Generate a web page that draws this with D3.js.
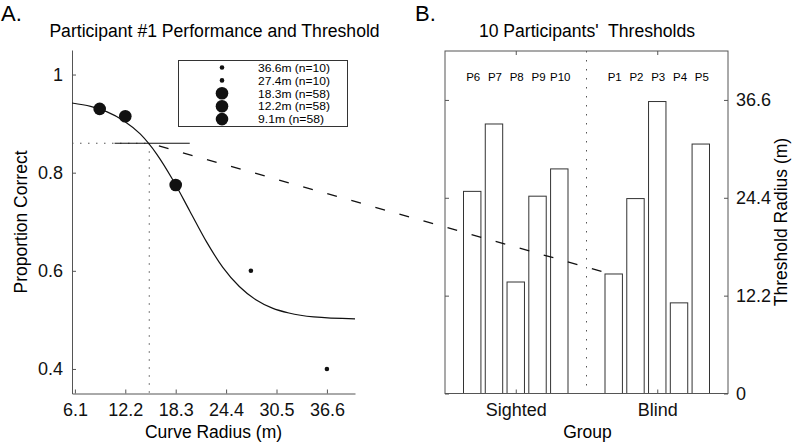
<!DOCTYPE html>
<html>
<head>
<meta charset="utf-8">
<script src="https://cdn.jsdelivr.net/npm/d3@7/dist/d3.min.js"></script>
<style>
  html, body { margin: 0; padding: 0; background: #fff; }
  svg { display: block; font-family: "Liberation Sans", Arial, Helvetica, sans-serif; }
</style>
</head>
<body>
<svg id="chart" width="800" height="444"></svg>
<script>
// ---------- Data ----------
// Panel A: observed performance per curve radius
const radii = [9.1, 12.2, 18.3, 27.4, 36.6];
const propCorrect = [0.93, 0.915, 0.775, 0.60, 0.40];
const trialCounts = [58, 58, 58, 10, 10];

// Panel A: fitted psychometric curve
const curveRadius = [5.75, 8, 10, 12, 14, 16, 18, 20, 22, 24, 26, 28, 30, 32, 35, 40];
const curveProp   = [0.942, 0.935, 0.924, 0.906, 0.879, 0.838, 0.784, 0.722, 0.660, 0.607, 0.568, 0.541, 0.524, 0.514, 0.506, 0.502];

// Threshold and its interval
const thresholdRadius = 15.1;
const thresholdProp = 0.86;
const thresholdInterval = [10.9, 20.0];

// Legend order
const legendRadii = [36.6, 27.4, 18.3, 12.2, 9.1];
const legendN = [10, 10, 58, 58, 58];

// Axis ticks
const xTicksA = [6.1, 12.2, 18.3, 24.4, 30.5, 36.6];
const yTicksA = [0.4, 0.6, 0.8, 1];
const yTicksB = [0, 12.2, 24.4, 36.6];

// Panel B: thresholds per participant
const groups = ["Sighted", "Blind"];
const sightedIds = ["P6", "P7", "P8", "P9", "P10"];
const sightedThresholds = [25.2, 33.6, 13.9, 24.6, 28.0];
const blindIds = ["P1", "P2", "P3", "P4", "P5"];
const blindThresholds = [14.9, 24.3, 36.4, 11.3, 31.1];

// ---------- Drawing ----------
const svg = d3.select("#chart");
const axisColor = "#555";
const tickLen = 4;
const fontTick = 18;
const fontLabel = 17.5;

// Panel A scales
const xA = d3.scaleLinear().domain([5.75, 40]).range([72, 355]);
const yA = d3.scaleLinear().domain([0.35, 1.05]).range([393.5, 50]);

// Panel labels & titles
svg.append("text").attr("x", 1).attr("y", 21).attr("font-size", 22).text("A.");
svg.append("text").attr("x", 415).attr("y", 21).attr("font-size", 22).text("B.");
svg.append("text").attr("x", 214.5).attr("y", 37).attr("text-anchor", "middle")
  .attr("font-size", 17.6).text("Participant #1 Performance and Threshold");
svg.append("text").attr("x", 587).attr("y", 37).attr("text-anchor", "middle")
  .style("white-space", "pre")
  .attr("font-size", 17.6).text("10 Participants'  Thresholds");

// Panel A axes (left + bottom, ticks inside)
const gA = svg.append("g");
const xAxisA = d3.axisBottom(xA).tickValues(xTicksA).tickFormat(d3.format(".1f"))
  .tickSizeInner(-tickLen).tickSizeOuter(0).tickPadding(10);
gA.append("g").attr("transform", "translate(0,393.5)").call(xAxisA);
const yAxisA = d3.axisLeft(yA).tickValues(yTicksA).tickFormat(d => d === 1 ? "1" : d3.format(".1f")(d))
  .tickSizeInner(-tickLen).tickSizeOuter(0).tickPadding(9);
gA.append("g").attr("transform", "translate(72,0)").call(yAxisA);
gA.selectAll(".domain").attr("stroke", axisColor);
gA.selectAll(".tick line").attr("stroke", axisColor);
gA.selectAll(".tick text").attr("font-size", fontTick).attr("fill", "#111")
  .style("font-family", "Liberation Sans, Arial, sans-serif");

svg.append("text").attr("x", 213.5).attr("y", 438).attr("text-anchor", "middle")
  .attr("font-size", fontLabel).text("Curve Radius (m)");
svg.append("text").attr("transform", "translate(27,222) rotate(-90)").attr("text-anchor", "middle")
  .attr("font-size", fontLabel).text("Proportion Correct");

// Threshold guides
svg.append("line")
  .attr("x1", xA(5.75)).attr("x2", xA(thresholdRadius))
  .attr("y1", yA(thresholdProp)).attr("y2", yA(thresholdProp))
  .attr("stroke", "#555").attr("stroke-dasharray", "1.5,6.5");
svg.append("line")
  .attr("x1", xA(thresholdRadius)).attr("x2", xA(thresholdRadius))
  .attr("y1", yA(thresholdProp)).attr("y2", yA(0.35))
  .attr("stroke", "#555").attr("stroke-dasharray", "1.5,6.5");
svg.append("line")
  .attr("x1", xA(thresholdInterval[0])).attr("x2", xA(thresholdInterval[1]))
  .attr("y1", yA(thresholdProp)).attr("y2", yA(thresholdProp))
  .attr("stroke", "#111").attr("stroke-width", 1.2);

// Fitted curve
const curvePts = curveRadius.map((r, i) => [r, curveProp[i]]);
svg.append("path")
  .attr("d", d3.line().x(d => xA(d[0])).y(d => yA(d[1])).curve(d3.curveMonotoneX)(curvePts))
  .attr("fill", "none").attr("stroke", "#111").attr("stroke-width", 1.2);

// Data points
const rScale = n => n >= 50 ? 6.3 : 2.3;
svg.append("g").selectAll("circle").data(radii.map((r, i) => ({r, p: propCorrect[i], n: trialCounts[i]})))
  .join("circle")
  .attr("cx", d => xA(d.r)).attr("cy", d => yA(d.p)).attr("r", d => rScale(d.n))
  .attr("fill", "#111");

// Legend
const lg = svg.append("g");
lg.append("rect").attr("x", 178.5).attr("y", 60.5).attr("width", 169).attr("height", 66)
  .attr("fill", "#fff").attr("stroke", "#333");
legendRadii.forEach((r, i) => {
  const yy = 67.5 + i * 12.9;
  lg.append("circle").attr("cx", 222).attr("cy", yy).attr("r", rScale(legendN[i])).attr("fill", "#111");
  lg.append("text").attr("x", 258).attr("y", yy + 4.2).attr("font-size", 11.5)
    .attr("textLength", 72).attr("lengthAdjust", "spacingAndGlyphs")
    .text(`${r}m (n=${legendN[i]})`);
});
// shorter label has no stretch
lg.selectAll("text").filter((d, i, n) => n[i].textContent.length < 12).attr("textLength", 66);

// Panel B scales
const xB = d3.scaleLinear().domain([0.5, 2.5]).range([445, 728]);
const yB = d3.scaleLinear().domain([0, 42.7]).range([393.5, 51]);
const nPer = 5;
const groupWidth = Math.min(0.8, nPer / (nPer + 1.5));
const step = groupWidth / nPer;
const barW = step * 0.8;

const bars = [];
[sightedThresholds, blindThresholds].forEach((vals, g) => {
  const ids = g === 0 ? sightedIds : blindIds;
  vals.forEach((v, i) => {
    const c = (g + 1) + (i - (nPer - 1) / 2) * step;
    bars.push({id: ids[i], v, c});
  });
});

// Dotted divider
svg.append("line").attr("x1", xB(1.5)).attr("x2", xB(1.5)).attr("y1", yB(42.7)).attr("y2", yB(0))
  .attr("stroke", "#555").attr("stroke-dasharray", "1.5,7.5");

// Bars
svg.append("g").selectAll("rect").data(bars).join("rect")
  .attr("x", d => xB(d.c - barW / 2)).attr("width", xB(barW) - xB(0))
  .attr("y", d => yB(d.v)).attr("height", d => yB(0) - yB(d.v))
  .attr("fill", "#fff").attr("stroke", "#333").attr("stroke-width", 1);

// Participant labels
svg.append("g").selectAll("text").data(bars).join("text")
  .attr("x", d => xB(d.c) + 1).attr("y", 81).attr("text-anchor", "middle")
  .attr("font-size", 11.5).text(d => d.id);

// Panel B box
svg.append("rect").attr("x", 445).attr("y", yB(42.7)).attr("width", 283).attr("height", yB(0) - yB(42.7))
  .attr("fill", "none").attr("stroke", axisColor);

// Right axis
const gB = svg.append("g");
const yAxisB = d3.axisRight(yB).tickValues(yTicksB).tickFormat(d => d === 0 ? "0" : d3.format(".1f")(d))
  .tickSizeInner(-tickLen).tickSizeOuter(0).tickPadding(8);
gB.append("g").attr("transform", "translate(728,0)").call(yAxisB);
const yAxisBL = d3.axisLeft(yB).tickValues(yTicksB).tickFormat("").tickSizeInner(-tickLen).tickSizeOuter(0);
gB.append("g").attr("transform", "translate(445,0)").call(yAxisBL);
const xAxisB = d3.axisBottom(xB).tickValues([1, 2]).tickFormat((d, i) => groups[i])
  .tickSizeInner(-tickLen).tickSizeOuter(0).tickPadding(10);
gB.append("g").attr("transform", `translate(0,${yB(0)})`).call(xAxisB);
const xAxisBT = d3.axisTop(xB).tickValues([1, 2]).tickFormat("").tickSizeInner(-tickLen).tickSizeOuter(0);
gB.append("g").attr("transform", `translate(0,${yB(42.7)})`).call(xAxisBT);
gB.selectAll(".domain").attr("stroke", "none");
gB.selectAll(".tick line").attr("stroke", axisColor);
gB.selectAll(".tick text").attr("font-size", fontTick).attr("fill", "#111")
  .style("font-family", "Liberation Sans, Arial, sans-serif");

svg.append("text").attr("x", 587.5).attr("y", 438).attr("text-anchor", "middle")
  .attr("font-size", fontLabel).text("Group");
svg.append("text").attr("transform", "translate(787,222) rotate(-90)").attr("text-anchor", "middle")
  .attr("font-size", fontLabel).text("Threshold Radius (m)");

// Dashed connector from threshold to P1 bar
const p1 = bars.find(b => b.id === "P1");
svg.append("line")
  .attr("x1", xA(thresholdRadius)).attr("y1", yA(thresholdProp))
  .attr("x2", xB(p1.c) - 3).attr("y2", yB(p1.v))
  .attr("stroke", "#111").attr("stroke-width", 1.3).attr("stroke-dasharray", "0,10,10,5");
</script>
</body>
</html>
